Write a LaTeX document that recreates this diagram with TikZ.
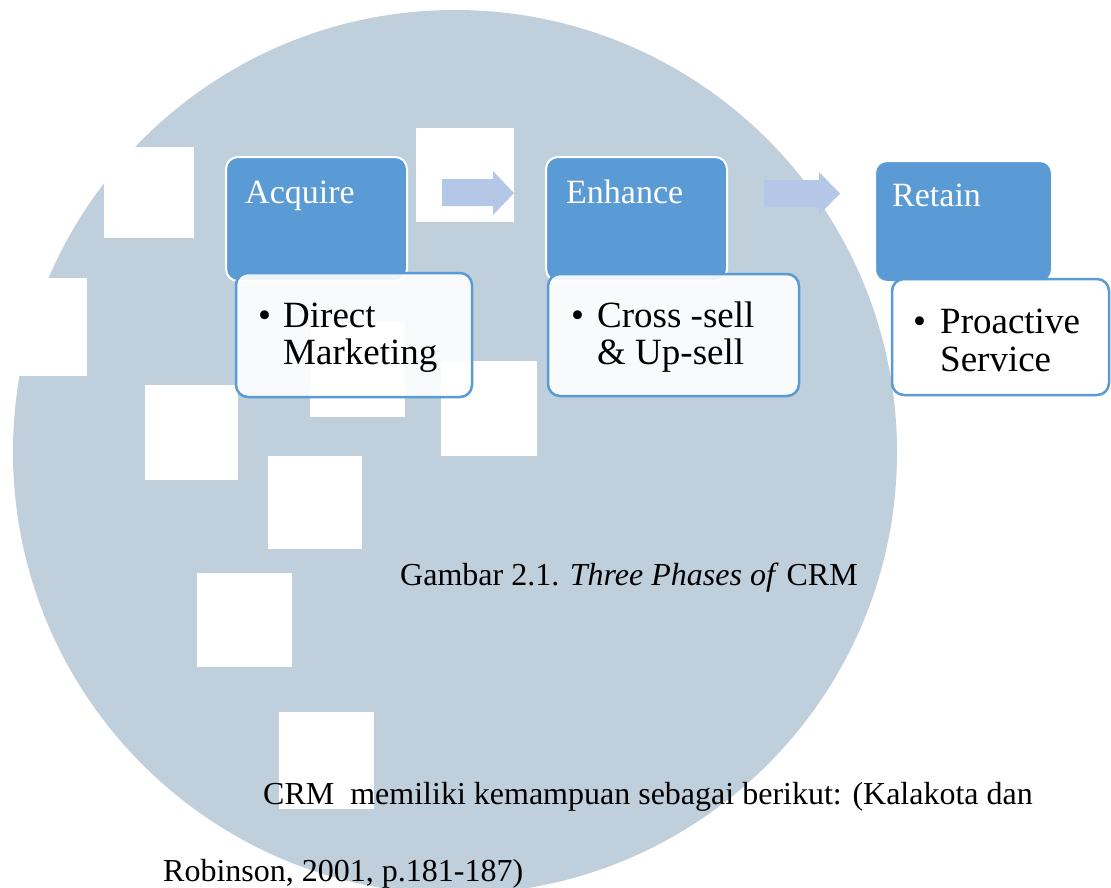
\documentclass[tikz,border=0pt]{standalone}
\usepackage{fontspec}
\setmainfont{Liberation Serif}
\definecolor{circc}{RGB}{192,207,220}
\definecolor{boxblue}{RGB}{91,155,213}
\definecolor{arrowc}{RGB}{180,199,231}
\begin{document}
\begin{tikzpicture}[x=1pt,y=-1pt,
  hbox/.style={draw=white, line width=2pt, fill=boxblue, rounded corners=12pt,
    anchor=north west, inner sep=0pt, outer sep=0pt},
  bbox/.style={draw=boxblue, line width=2.5pt, fill=white, fill opacity=.9,
    rounded corners=12pt, anchor=north west, inner sep=0pt, outer sep=0pt},
  head/.style={anchor=base west, inner sep=0pt, text=white,
    font=\fontsize{34}{40}\selectfont},
  bul/.style={anchor=base west, inner sep=0pt,
    font=\fontsize{37}{42}\selectfont},
  body/.style={anchor=base west, inner sep=0pt,
    font=\fontsize{32}{38}\selectfont},
  hole/.style={fill=white},
  blockarrow/.style={fill=arrowc}]
\clip (0,0) rectangle (1111,887);
% watermark circle with square holes
\fill[circc] (455,452) circle[radius=442pt];
\foreach \x/\y/\w/\h in {104/147/90/91, 416/128/98/94, -5/278/92/98,
  145/385/93/95, 310/322/95/95, 441/361/96/95, 268/456/94/93,
  197/573/95/94, 279/712/95/97}
  \fill[hole] (\x,\y) rectangle ++(\w,\h);
% block arrows
\fill[blockarrow] (442,179) -- (493,179) -- (493,171) -- (514,193) -- (493,215) -- (493,206) -- (442,206) -- cycle;
\fill[blockarrow] (764,180) -- (819,180) -- (819,172) -- (840,193.5) -- (819,215) -- (819,207) -- (764,207) -- cycle;
% header boxes
\node[hbox, minimum width=181pt, minimum height=124pt] (acqbox) at (226,157) {};
\node[hbox, minimum width=181pt, minimum height=124pt] (enhbox) at (546,157) {};
\node[hbox, minimum width=177pt, minimum height=121pt] (retbox) at (875,161) {};
% content boxes
\node[bbox, minimum width=236pt, minimum height=124pt] (acqlist) at (236,273) {};
\node[bbox, minimum width=251pt, minimum height=122pt] (enhlist) at (548,274) {};
\node[bbox, minimum width=217pt, minimum height=116pt] (retlist) at (892,279) {};
% header texts
\node[head] (acq) at (245,203) {Acquire};
\node[head] (enh) at (566,203) {Enhance};
\node[head] (ret) at (892,206) {Retain};
% bullet texts
\node[bul] (b1) at (258,327) {•};
\node[bul] (t1a) at (283,327) {Direct};
\node[bul] (t1b) at (283,364) {Marketing};
\node[bul] (b2) at (571,327) {•};
\node[bul] (t2a) at (597,327) {Cross -sell};
\node[bul] (t2b) at (597,364) {\& Up-sell};
\node[bul] (b3) at (913,333) {•};
\node[bul] (t3a) at (940,333) {Proactive};
\node[bul] (t3b) at (940,371) {Service};
% caption and body text
\node[body] (cap) at (400,585) {Gambar 2.1. \textit{Three Phases of} CRM};
\node[body] (par1) at (263,804) {CRM\ \ memiliki kemampuan sebagai berikut: (Kalakota dan};
\node[body] (par2) at (163,881) {Robinson, 2001, p.181-187)};
\end{tikzpicture}
\end{document}
